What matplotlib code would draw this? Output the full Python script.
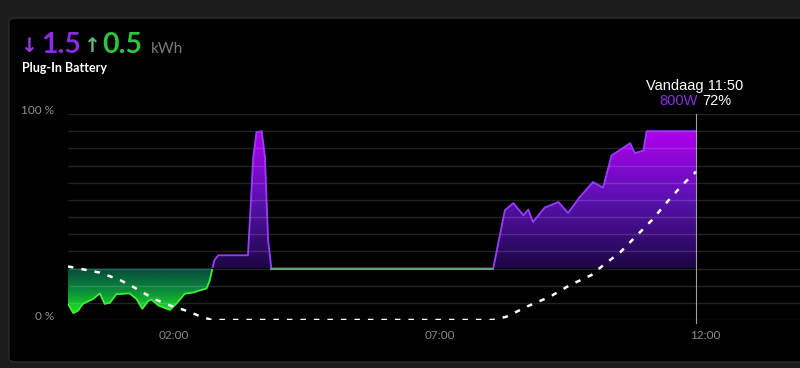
import numpy as np
import matplotlib
matplotlib.use("Agg")
import matplotlib.pyplot as plt
from matplotlib.colors import LinearSegmentedColormap
from matplotlib.patches import FancyBboxPatch, Rectangle

# power in W, time in hours since midnight
power_t = [0.0, 0.10, 0.19, 0.28, 0.47, 0.60, 0.69, 0.79, 0.91, 1.16, 1.29, 1.40,
           1.51, 1.57, 1.70, 1.92, 2.04, 2.20, 2.36, 2.48, 2.61, 2.67, 2.72,
           2.76, 2.83, 3.39, 3.49, 3.55, 3.65, 3.71, 3.77, 3.83,
           8.01, 8.23, 8.39, 8.58, 8.67, 8.76, 8.98, 9.24, 9.42, 9.64, 9.89,
           10.08, 10.24, 10.59, 10.68, 10.84, 10.90, 11.83]
power_w = [-206, -260, -245, -206, -178, -145, -206, -200, -150, -145, -178, -235,
           -190, -180, -215, -241, -206, -147, -140, -128, -116, -70, 0,
           50, 77, 77, 649, 794, 800, 649, 165, 0,
           0, 339, 381, 310, 343, 271, 355, 387, 323, 416, 504,
           471, 659, 730, 672, 688, 800, 800]

# state of charge in %
soc_t = [0.0, 0.60, 0.98, 1.22, 1.60, 1.86, 2.24, 2.48, 2.71, 8.0, 8.26, 8.67,
         9.08, 9.46, 9.86, 10.05, 10.40, 10.71, 11.0, 11.31, 11.59, 11.78, 11.83]
soc_pct = [26, 23, 19.4, 16.2, 10.5, 7.6, 4.4, 1.9, 0, 0, 1.6, 6.8,
           11.3, 17, 21.8, 25.9, 32.8, 40.9, 48.5, 58, 66, 70.7, 72]

xticks = [2, 7, 12]
xtick_labels = ["02:00", "07:00", "12:00"]
cursor_t = 11.83

t = np.array(power_t)
p = np.array(power_w, dtype=float)
XMAX = 13.79

fig = plt.figure(figsize=(8, 3.68), dpi=100)
fig.patch.set_facecolor("#1c1c1c")
W, H = 800, 368
card = FancyBboxPatch((9 / W, 6 / H), 800 / W, 344 / H, transform=fig.transFigure,
                      boxstyle="round,pad=0,rounding_size=0.01",
                      facecolor="#000000", edgecolor="#2c2c2c", linewidth=1, zorder=-10)
fig.patches.append(card)

ax = fig.add_axes([68 / W, 1 - 320 / H, 732 / W, 206 / H])
ax.set_facecolor("none")
for s in ax.spines.values():
    s.set_visible(False)
ax.set_yticks(np.arange(-300, 901, 100))
ax.yaxis.grid(True, color="white", alpha=0.14, linewidth=1, zorder=5)
ax.set_axisbelow(False)
ax.tick_params(axis="y", left=False, labelleft=False)
ax.set_xticks(xticks)
ax.set_xticklabels(xtick_labels, color="#8a8a8a", fontsize=8.5, family=["Lato", "DejaVu Sans"])
ax.tick_params(axis="x", length=0, pad=7)

# gradient fills clipped to the area
purple_cmap = LinearSegmentedColormap.from_list("pu", ["#1c0645", "#5a12b0", "#b000f0"])
green_cmap = LinearSegmentedColormap.from_list("gr", ["#05483c", "#0c8a3c", "#22e41e"])
grad = np.linspace(0, 1, 256).reshape(-1, 1)

pos = ax.fill_between(t, 0, p, where=p >= 0, interpolate=True, facecolor="none", edgecolor="none")
for path in pos.get_paths():
    im = ax.imshow(grad, cmap=purple_cmap, origin="lower", aspect="auto",
                   extent=[0, XMAX, 0, 800], zorder=2)
    im.set_clip_path(path, transform=ax.transData)

neg = ax.fill_between(t, 0, p, where=p <= 0, interpolate=True, facecolor="none", edgecolor="none")
for path in neg.get_paths():
    im = ax.imshow(grad, cmap=green_cmap, origin="upper", aspect="auto",
                   extent=[0, XMAX, -260, 0], zorder=2)
    im.set_clip_path(path, transform=ax.transData)
ax.set_xlim(0, XMAX)
ax.set_ylim(-300, 900)

line_pu, = ax.plot(t, p, color="#9a3cff", linewidth=1.3, zorder=6)
line_pu.set_clip_path(Rectangle((0, 0.5), 14, 1000, transform=ax.transData))
line_gr, = ax.plot(t, p, color="#3ef03a", linewidth=1.3, zorder=6)
line_gr.set_clip_path(Rectangle((0, -400), 2.9, 400, transform=ax.transData))
flat = np.where(p == 0, p, np.nan)
ax.plot(t, flat, color="#5fb59a", linewidth=1.3, zorder=6)

# state of charge on its own scale
ax2 = ax.twinx()
ax2.set_ylim(0, 100)
ax2.set_facecolor("none")
for s in ax2.spines.values():
    s.set_visible(False)
ax2.yaxis.tick_left()
ax2.set_yticks([0, 100])
ax2.set_yticklabels(["0 %", "100 %"], color="#8f8f8f", fontsize=8.5, family=["Lato", "DejaVu Sans"])
for lbl in ax2.get_yticklabels():
    lbl.set_verticalalignment("baseline")
ax2.tick_params(axis="y", length=0, pad=10)
ax2.plot(soc_t, soc_pct, color="white", linewidth=1.8, dashes=(2.2, 3.2), zorder=7)
ax2.axvline(cursor_t, ymin=-0.015, ymax=1, color="#a0a0a0", linewidth=0.8, clip_on=False)

# header
hf = ["Lato", "DejaVu Sans"]
af = ["DejaVu Sans"]
fig.text(20 / W, 1 - 52 / H, "↓", color="#8a3fe0", fontsize=14.5, family=af, fontweight="bold")
fig.text(41 / W, 1 - 53 / H, "1.5", color="#8a2be2", fontsize=20.5, family=hf, fontweight="bold")
fig.text(83 / W, 1 - 52 / H, "↑", color="#5fb87a", fontsize=14.5, family=af, fontweight="bold")
fig.text(102 / W, 1 - 53 / H, "0.5", color="#2fc43e", fontsize=20.5, family=hf, fontweight="bold")
fig.text(151 / W, 1 - 53 / H, "kWh", color="#7a7a7a", fontsize=11, family=hf)
fig.text(22 / W, 1 - 72 / H, "Plug-In Battery", color="white", fontsize=9, family=hf, fontweight="bold")

# tooltip
tf = ["Liberation Sans", "DejaVu Sans"]
fig.text(695 / W, 1 - 90 / H, "Vandaag 11:50", color="white", fontsize=10.5, family=tf, ha="center")
fig.text(698 / W, 1 - 105 / H, "800W", color="#8a30e0", fontsize=10.5, family=tf, ha="right")
fig.text(702 / W, 1 - 105 / H, "72%", color="white", fontsize=10.5, family=tf, ha="left")

fig.savefig("out.png", dpi=100, facecolor=fig.get_facecolor())
